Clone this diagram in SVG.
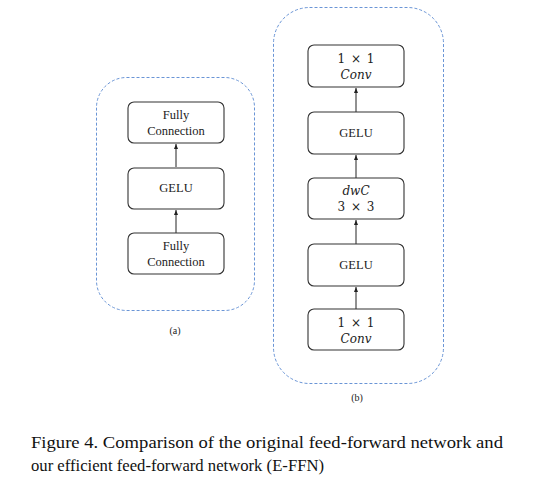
<svg xmlns="http://www.w3.org/2000/svg" width="533" height="481" viewBox="0 0 533 481">
<style>
.grp{fill:none;stroke:#6a95d6;stroke-width:1;stroke-dasharray:3 2}
.node rect{fill:#fff;stroke:#333;stroke-width:1.1}
.t{font-family:"Liberation Serif","Times New Roman",serif;font-size:12.5px;fill:#222;text-anchor:middle}
.m{font-family:"DejaVu Serif","Liberation Serif",serif;font-size:12px;fill:#222;text-anchor:middle}
.i{font-style:italic}
.conn line{stroke:#222;stroke-width:1;marker-end:url(#ah)}
.cap{font-family:"Liberation Serif","Times New Roman",serif;font-size:16px;fill:#111}
.sub{font-family:"Liberation Serif","Times New Roman",serif;font-size:10px;fill:#222;text-anchor:middle}
</style>
<defs>
<marker id="ah" markerWidth="6" markerHeight="6" refX="5" refY="3" orient="auto" markerUnits="userSpaceOnUse">
<path d="M0,1 L5,3 L0,5 z" fill="#222"/>
</marker>
</defs>
<rect width="533" height="481" fill="#fff"/>
<rect class="grp" x="96.5" y="77.5" width="158" height="233" rx="30"/>
<rect class="grp" x="273.5" y="7.5" width="170" height="376" rx="36"/>
<g class="conn">
<line x1="176" y1="233" x2="176" y2="210"/>
<line x1="176" y1="167" x2="176" y2="144"/>
<line x1="356" y1="309" x2="356" y2="287"/>
<line x1="356" y1="244" x2="356" y2="220"/>
<line x1="356" y1="178" x2="356" y2="155"/>
<line x1="356" y1="112" x2="356" y2="88"/>
</g>
<g id="a-fc1" class="node"><rect x="128" y="102" width="96" height="41" rx="6"/><text class="t" x="176" y="119">Fully</text><text class="t" x="176" y="135">Connection</text></g>
<g id="a-gelu" class="node"><rect x="128" y="168" width="96" height="41" rx="6"/><text class="t" x="176" y="192">GELU</text></g>
<g id="a-fc2" class="node"><rect x="128" y="233" width="96" height="41" rx="6"/><text class="t" x="176" y="250">Fully</text><text class="t" x="176" y="266">Connection</text></g>
<g id="b-conv1" class="node"><rect x="308" y="45" width="96" height="42" rx="6"/><text class="m" x="356" y="63" word-spacing="2">1 × 1</text><text class="m i" x="356" y="79">Conv</text></g>
<g id="b-gelu1" class="node"><rect x="308" y="112" width="96" height="42" rx="6"/><text class="t" x="356" y="137">GELU</text></g>
<g id="b-dwc" class="node"><rect x="308" y="178" width="96" height="41" rx="6"/><text class="m i" x="356" y="195">dwC</text><text class="m" x="356" y="211" word-spacing="2">3 × 3</text></g>
<g id="b-gelu2" class="node"><rect x="308" y="244" width="96" height="42" rx="6"/><text class="t" x="356" y="269">GELU</text></g>
<g id="b-conv2" class="node"><rect x="308" y="309" width="96" height="41" rx="6"/><text class="m" x="356" y="327" word-spacing="2">1 × 1</text><text class="m i" x="356" y="343">Conv</text></g>
<text class="sub" x="175" y="334">(a)</text>
<text class="sub" x="357" y="401">(b)</text>
<text class="cap" x="31" y="448" textLength="472" lengthAdjust="spacingAndGlyphs">Figure 4.  Comparison of the original feed-forward network and</text>
<text class="cap" x="31" y="471" textLength="293" lengthAdjust="spacingAndGlyphs">our efficient feed-forward network (E-FFN)</text>
</svg>
